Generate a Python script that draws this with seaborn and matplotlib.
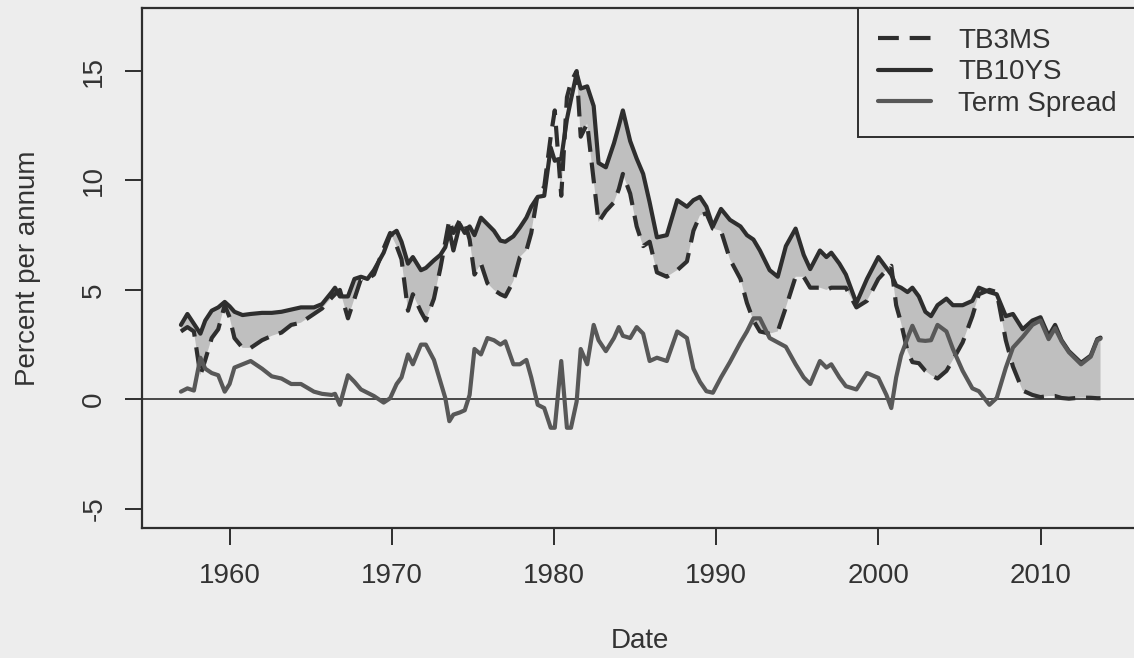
import numpy as np
import pandas as pd
import matplotlib
matplotlib.use("Agg")
import matplotlib.pyplot as plt
import seaborn as sns

# Datos (anios, porcentaje anual)
anios = [1957.0, 1957.4, 1957.8, 1958.2, 1958.5, 1958.9, 1959.3, 1959.7, 1960.0, 1960.3,
         1960.8, 1961.3, 1962.0, 1962.6, 1963.2, 1963.8, 1964.4, 1965.2, 1965.7, 1966.3,
         1966.5, 1966.8, 1967.3, 1967.7, 1968.1, 1968.5, 1968.9, 1969.5, 1969.9, 1970.3,
         1970.6, 1971.0, 1971.3, 1971.8, 1972.1, 1972.6, 1973.0, 1973.3, 1973.55, 1973.8,
         1974.2, 1974.5, 1974.8, 1975.1, 1975.5, 1975.9, 1976.3, 1976.7, 1977.0, 1977.5,
         1977.9, 1978.3, 1978.6, 1979.0, 1979.4, 1979.8, 1980.05, 1980.45, 1980.8, 1981.05,
         1981.4, 1981.65, 1982.05, 1982.45, 1982.75, 1983.2, 1983.7, 1984.0, 1984.25, 1984.7,
         1985.1, 1985.5, 1985.9, 1986.35, 1986.96, 1987.6, 1988.2, 1988.6, 1989.0, 1989.4,
         1989.8, 1990.3, 1990.85, 1991.5, 1991.9, 1992.3, 1992.7, 1993.3, 1993.8, 1994.3,
         1994.9, 1995.4, 1995.8, 1996.4, 1996.8, 1997.1, 1997.6, 1998.0, 1998.65, 1999.3,
         2000.0, 2000.5, 2000.8, 2001.1, 2001.4, 2001.8, 2002.1, 2002.5, 2002.9, 2003.25,
         2003.65, 2004.2, 2004.6, 2005.2, 2005.8, 2006.2, 2006.85, 2007.3, 2007.86, 2008.3,
         2008.9, 2009.5, 2010.0, 2010.5, 2010.9, 2011.3, 2011.75, 2012.5, 2013.1, 2013.5,
         2013.7]

tb10ys = [3.4, 3.9, 3.45, 3.0, 3.6, 4.05, 4.2, 4.45, 4.25, 4.0,
          3.85, 3.9, 3.95, 3.95, 4.0, 4.1, 4.2, 4.2, 4.35, 4.9,
          5.1, 4.7, 4.7, 5.5, 5.6, 5.5, 5.9, 6.7, 7.5, 7.7,
          7.2, 6.2, 6.5, 5.9, 6.0, 6.35, 6.6, 6.95, 7.7, 6.8,
          8.0, 7.6, 7.9, 7.5, 8.3, 8.0, 7.7, 7.25, 7.2, 7.45,
          7.85, 8.3, 8.8, 9.25, 9.3, 11.5, 10.9, 11.0, 12.8, 13.7,
          14.9, 14.2, 14.3, 13.4, 10.8, 10.6, 11.7, 12.5, 13.2, 11.8,
          11.0, 10.3, 9.0, 7.4, 7.5, 9.1, 8.8, 9.1, 9.25, 8.8,
          7.9, 8.7, 8.2, 7.9, 7.5, 7.3, 6.8, 5.9, 5.6, 7.0,
          7.8, 6.6, 5.95, 6.8, 6.5, 6.7, 6.2, 5.7, 4.4, 5.5,
          6.5, 6.0, 5.7, 5.2, 5.1, 4.9, 5.1, 4.7, 4.0, 3.8,
          4.3, 4.6, 4.3, 4.3, 4.5, 5.1, 4.9, 4.8, 3.8, 3.9,
          3.2, 3.6, 3.75, 2.9, 3.4, 2.7, 2.2, 1.67, 2.0, 2.75,
          2.82]

tb3ms = [3.1, 3.3, 3.1, 1.1, 1.8, 2.8, 3.2, 4.3, 3.75, 2.8,
         2.35, 2.35, 2.7, 2.9, 3.05, 3.4, 3.5, 3.9, 4.15, 4.65,
         4.8, 5.0, 3.7, 4.6, 5.5, 5.5, 5.7, 6.9, 7.6, 7.0,
         6.4, 4.05, 4.8, 4.0, 3.6, 4.6, 6.0, 7.2, 8.2, 7.6,
         8.2, 8.1, 7.3, 5.7, 6.2, 5.3, 5.0, 4.8, 4.7, 5.4,
         6.5, 6.8, 7.6, 9.4, 9.7, 12.0, 13.2, 9.3, 13.8, 14.5,
         15.0, 12.0, 12.6, 10.0, 8.1, 8.6, 9.0, 9.6, 10.3, 9.4,
         7.9, 7.0, 7.2, 5.8, 5.6, 5.9, 6.3, 7.7, 8.4, 8.5,
         7.8, 7.7, 6.4, 5.5, 4.4, 3.6, 3.1, 3.0, 3.1, 4.2,
         5.6, 5.6, 5.1, 5.1, 5.0, 5.1, 5.1, 5.1, 4.2, 4.5,
         5.5, 5.9, 6.1, 4.3, 3.5, 2.2, 1.7, 1.65, 1.3, 1.1,
         0.95, 1.3, 1.8, 2.6, 3.8, 4.8, 5.0, 4.9, 2.7, 1.5,
         0.4, 0.2, 0.1, 0.15, 0.15, 0.06, 0.03, 0.08, 0.07, 0.05,
         0.05]

term_spread = [0.35, 0.5, 0.4, 1.9, 1.4, 1.2, 1.1, 0.35, 0.7, 1.45,
               1.6, 1.75, 1.4, 1.05, 0.95, 0.7, 0.7, 0.35, 0.25, 0.2,
               0.25, -0.25, 1.1, 0.8, 0.45, 0.3, 0.15, -0.15, 0.05, 0.7,
               1.0, 2.05, 1.6, 2.5, 2.5, 1.8, 0.8, 0.06, -1.0, -0.7,
               -0.6, -0.5, 0.2, 2.3, 2.05, 2.8, 2.7, 2.5, 2.65, 1.6,
               1.6, 1.8, 1.0, -0.25, -0.4, -1.3, -1.3, 1.75, -1.3, -1.3,
               -0.1, 2.3, 1.6, 3.4, 2.7, 2.2, 2.8, 3.3, 2.9, 2.8,
               3.3, 3.0, 1.75, 1.9, 1.75, 3.1, 2.8, 1.4, 0.8, 0.37,
               0.3, 1.0, 1.7, 2.6, 3.1, 3.7, 3.7, 2.8, 2.6, 2.4,
               1.6, 1.0, 0.7, 1.75, 1.45, 1.6, 1.0, 0.6, 0.45, 1.2,
               0.98, 0.2, -0.4, 1.0, 2.0, 2.8, 3.36, 2.7, 2.67, 2.7,
               3.4, 3.1, 2.3, 1.3, 0.5, 0.37, -0.25, 0.06, 1.44, 2.36,
               2.85, 3.4, 3.6, 2.75, 3.25, 2.65, 2.15, 1.6, 1.95, 2.7,
               2.77]

assert len(anios) == len(tb10ys) == len(tb3ms) == len(term_spread)

df = pd.DataFrame({"Date": anios, "TB3MS": tb3ms, "TB10YS": tb10ys, "Term Spread": term_spread})

# Estilo tipo grafico base de R
sns.set_theme(style="white")
plt.rcParams["font.family"] = ["Liberation Sans", "DejaVu Sans"]
fondo = "#ededed"
oscuro = "#2e2e2e"
texto = "#333333"

fig = plt.figure(figsize=(11.34, 6.58), dpi=100, facecolor=fondo)
ax = fig.add_axes([142 / 1134, 130 / 658, 995 / 1134, 520 / 658])
ax.set_facecolor(fondo)

# Sombreado entre las dos tasas (solo donde TB10YS esta por encima)
ax.fill_between(df["Date"], df["TB3MS"], df["TB10YS"], where=df["TB10YS"] >= df["TB3MS"],
                interpolate=True, color="#bfbfbf", linewidth=0, zorder=1)

sns.lineplot(data=df, x="Date", y="TB3MS", ax=ax, color=oscuro, linewidth=3.0,
             label="TB3MS", zorder=3)
ax.lines[-1].set_dashes((5, 2.6))
sns.lineplot(data=df, x="Date", y="TB10YS", ax=ax, color=oscuro, linewidth=3.0,
             label="TB10YS", zorder=3)
sns.lineplot(data=df, x="Date", y="Term Spread", ax=ax, color="#585858", linewidth=3.0,
             label="Term Spread", zorder=3)

ax.axhline(0, color="#3a3a3a", linewidth=1.3, zorder=2)

ax.set_xlim(1954.6, 2015.95)
ax.set_ylim(-5.88, 17.88)
ax.set_xticks([1960, 1970, 1980, 1990, 2000, 2010])
ax.set_yticks([-5, 0, 5, 10, 15])
ax.set_yticklabels(["-5", "0", "5", "10", "15"], rotation=90, va="center")

ax.tick_params(axis="both", direction="out", length=12, width=1.4, color=oscuro,
               labelsize=20, labelcolor=texto, bottom=True, left=True)
ax.tick_params(axis="x", pad=13)
ax.tick_params(axis="y", pad=13)
for sp in ax.spines.values():
    sp.set_color(oscuro)
    sp.set_linewidth(1.6)

ax.set_xlabel("Date", fontsize=20, color=texto, labelpad=28)
ax.set_ylabel("Percent per annum", fontsize=20, color=texto, labelpad=29)

leg = ax.legend(loc="upper right", bbox_to_anchor=(1.0, 1.0), borderaxespad=0,
                fontsize=20, frameon=True, fancybox=False, handlelength=1.9,
                handletextpad=1.0, labelspacing=0.19, borderpad=0.72)
leg.get_frame().set_edgecolor(oscuro)
leg.get_frame().set_linewidth(1.4)
leg.get_frame().set_facecolor(fondo)
leg.get_frame().set_alpha(1)
for t in leg.get_texts():
    t.set_color(texto)

plt.savefig("out.png", dpi=100, facecolor=fondo)
